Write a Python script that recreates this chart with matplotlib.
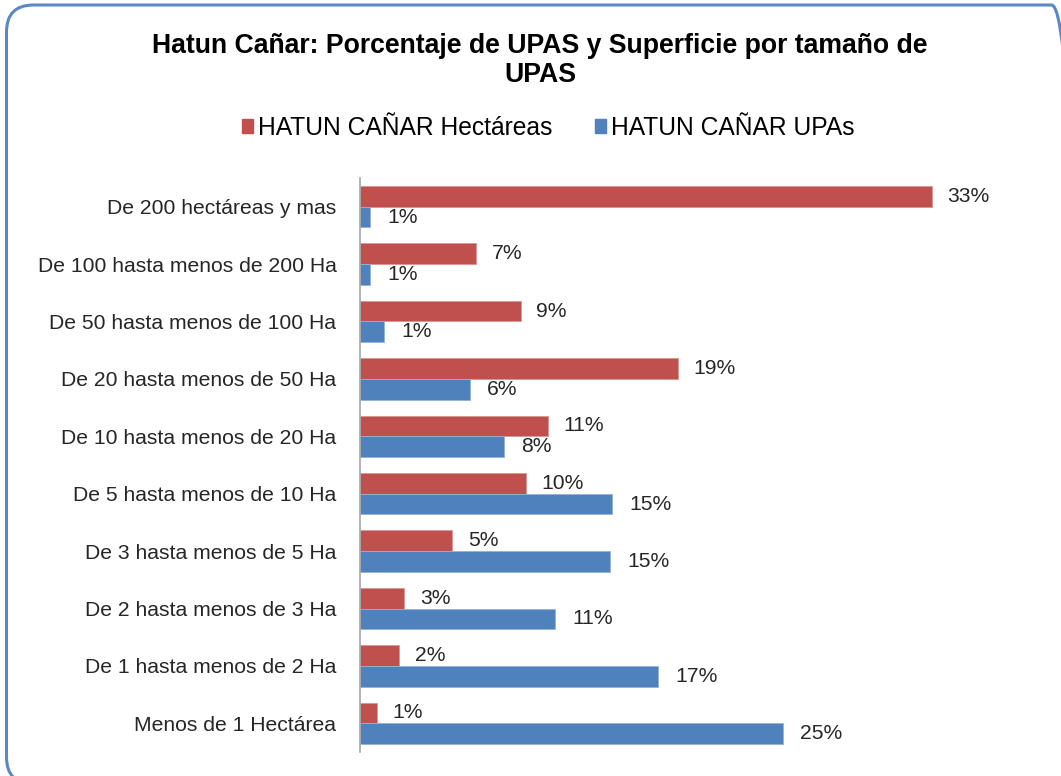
import matplotlib
matplotlib.use("Agg")
import matplotlib.pyplot as plt
from matplotlib.patches import Patch, FancyBboxPatch
import numpy as np

plt.rcParams['font.family'] = ['Liberation Sans', 'DejaVu Sans']

categories = [
    "De 200 hectáreas y mas",
    "De 100 hasta menos de 200 Ha",
    "De 50 hasta menos de 100 Ha",
    "De 20 hasta menos de 50 Ha",
    "De 10 hasta menos de 20 Ha",
    "De 5 hasta menos de 10 Ha",
    "De 3 hasta menos de 5 Ha",
    "De 2 hasta menos de 3 Ha",
    "De 1 hasta menos de 2 Ha",
    "Menos de 1 Hectárea",
]
hectareas = [33.4, 6.8, 9.4, 18.6, 11.0, 9.7, 5.4, 2.6, 2.3, 1.0]
upas = [0.6, 0.6, 1.4, 6.4, 8.4, 14.7, 14.6, 11.4, 17.4, 24.7]
series_names = ["HATUN CAÑAR Hectáreas", "HATUN CAÑAR UPAs"]
title = "Hatun Cañar: Porcentaje de UPAS y Superficie por tamaño de\nUPAS"

red = "#C0504D"
blue = "#4F81BD"

W, H = 1061, 776
fig = plt.figure(figsize=(W / 100, H / 100), dpi=100)

# rounded border (in inches; slightly past right/bottom edges like the reference)
border = FancyBboxPatch((0.065, -0.08), 10.72, 7.71 + 0.08,
                        boxstyle="round,pad=0,rounding_size=0.27",
                        transform=fig.dpi_scale_trans, facecolor="none",
                        edgecolor="#5A87C5", linewidth=2.2, zorder=-5)
fig.patches.append(border)

ax_left, ax_right = 360 / W, 1000 / W
ax_top, ax_bottom = 1 - 178 / H, 1 - 752 / H
ax = fig.add_axes([ax_left, ax_bottom, ax_right - ax_left, ax_top - ax_bottom])
ax.set_facecolor("none")

y = np.arange(len(categories))
h = 0.36
ax.barh(y - h / 2, hectareas, height=h, color=red, edgecolor="#D99694", linewidth=0.6)
ax.barh(y + h / 2, upas, height=h, color=blue, edgecolor="#95B3D7", linewidth=0.6)

for yi, v in zip(y, hectareas):
    ax.annotate(f"{round(v):d}%", (v, yi - h / 2), xytext=(11, 0), textcoords="offset points",
                va="center", ha="left", fontsize=15.2, color="#262626")
for yi, v in zip(y, upas):
    ax.annotate(f"{round(v):d}%", (v, yi + h / 2), xytext=(12.5, 0), textcoords="offset points",
                va="center", ha="left", fontsize=15.2, color="#262626")

ax.set_xlim(0, 37.4)
ax.set_ylim(len(categories) - 0.5, -0.5)
ax.set_yticks(y)
ax.set_yticklabels(categories, fontsize=15.2, color="#262626")
ax.tick_params(axis="y", length=0, pad=17)
ax.set_xticks([])
for s in ["top", "right", "bottom"]:
    ax.spines[s].set_visible(False)
ax.spines["left"].set_color("#A6A6A6")
ax.spines["left"].set_linewidth(1.2)

fig.text(540 / W, 1 - 60.5 / H, title, ha="center", va="center", fontsize=19.2,
         fontweight="bold", multialignment="center", linespacing=1.18, color="black")

handles = [Patch(facecolor=red, edgecolor=red), Patch(facecolor=blue, edgecolor=blue)]
fig.legend(handles, series_names, loc="center", bbox_to_anchor=(548 / W, 1 - 128 / H),
           ncol=2, frameon=False, fontsize=17.7, handlelength=0.45, handleheight=0.5,
           handletextpad=0.2, columnspacing=1.75)

fig.savefig("out.png", dpi=100)
